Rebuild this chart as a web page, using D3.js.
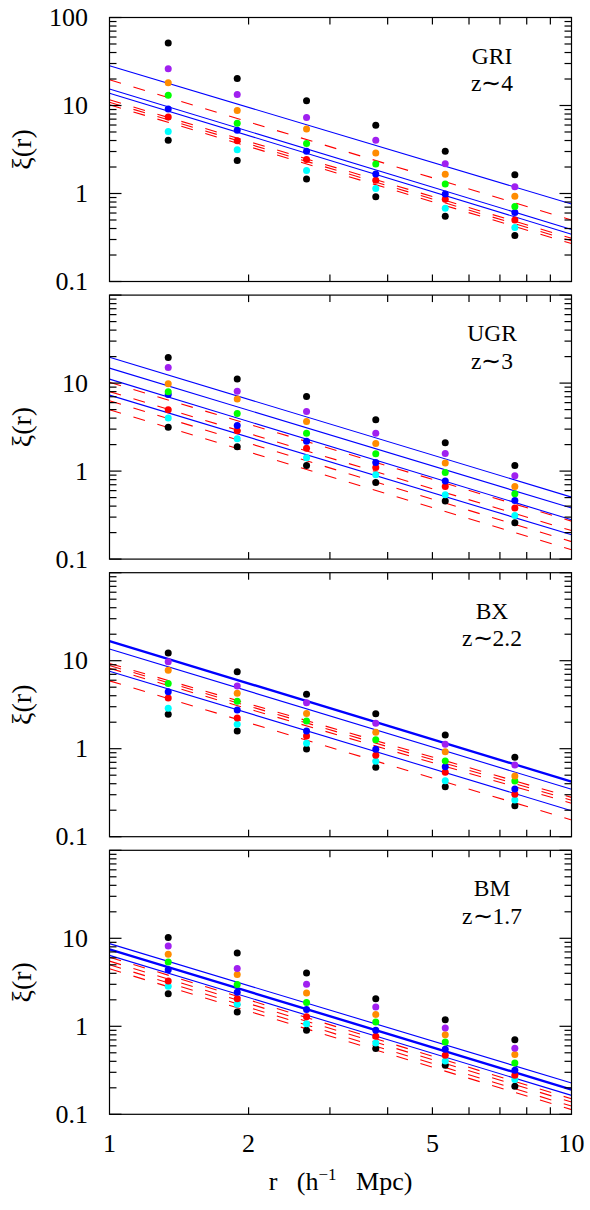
<!DOCTYPE html>
<html>
<head>
<meta charset="utf-8">
<script src="https://cdn.jsdelivr.net/npm/d3@7"></script>
<style>
  body { margin: 0; background: #fff; }
  svg text { font-family: "Liberation Serif", "Times New Roman", serif; fill: #000; }
</style>
</head>
<body>
<div id="chart"></div>
<script>
// separations r (h^-1 Mpc) of the measured points
const radii = [1.34, 1.89, 2.67, 3.77, 5.33, 7.54]

// point colours, from the top row of dots to the bottom row
const dotColors = ["#000000", "#a020f0", "#ff8c00", "#00ff00", "#0000ff", "#ff0000", "#00ffff", "#000000"]

// xi(r) values, one row per colour
const griPoints = [
  [51.2, 20.3, 11.3, 5.98, 3.03, 1.63],
  [26.1, 13.3, 7.3, 4.04, 2.18, 1.19],
  [18.1, 8.77, 5.4, 2.88, 1.66, 0.933],
  [13.1, 6.3, 3.7, 2.16, 1.28, 0.711],
  [9.1, 5.25, 3.03, 1.67, 0.985, 0.608],
  [7.4, 3.97, 2.43, 1.41, 0.863, 0.499],
  [5.07, 3.14, 1.83, 1.14, 0.682, 0.411],
  [4.04, 2.37, 1.46, 0.917, 0.553, 0.333]
]
const ugrPoints = [
  [19.5, 11.1, 7.05, 3.83, 2.1, 1.16],
  [15.0, 8.1, 4.75, 2.7, 1.59, 0.885],
  [9.8, 6.6, 3.66, 2.06, 1.24, 0.668],
  [8.0, 4.5, 2.7, 1.57, 0.964, 0.552],
  [7.4, 3.3, 2.19, 1.25, 0.77, 0.463],
  [4.97, 2.87, 1.82, 1.1, 0.668, 0.38],
  [4.0, 2.33, 1.42, 0.91, 0.537, 0.313],
  [3.16, 1.89, 1.16, 0.74, 0.456, 0.259]
]
const bxPoints = [
  [12.2, 7.5, 4.15, 2.5, 1.43, 0.8],
  [9.75, 5.16, 3.33, 1.94, 1.12, 0.653],
  [7.8, 4.26, 2.52, 1.54, 0.925, 0.49],
  [5.5, 3.46, 2.06, 1.26, 0.725, 0.43],
  [4.44, 2.75, 1.59, 0.985, 0.625, 0.348],
  [3.77, 2.23, 1.39, 0.84, 0.54, 0.303],
  [2.88, 1.89, 1.15, 0.72, 0.433, 0.261],
  [2.46, 1.59, 0.99, 0.615, 0.37, 0.225]
]
const bmPoints = [
  [10.2, 6.8, 4.03, 2.06, 1.19, 0.705],
  [8.2, 4.53, 3.0, 1.66, 0.957, 0.562],
  [6.58, 3.87, 2.39, 1.36, 0.804, 0.477],
  [5.38, 2.98, 1.86, 1.12, 0.663, 0.383],
  [4.4, 2.43, 1.55, 0.9, 0.548, 0.316],
  [3.27, 2.06, 1.28, 0.77, 0.468, 0.277],
  [2.85, 1.78, 1.07, 0.646, 0.404, 0.248],
  [2.35, 1.45, 0.9, 0.558, 0.36, 0.208]
]

// power-law fits: xi at r = 1 and at r = 10
const fitEnds = [1, 10]
const griSolid = [[28.3, 0.76], [15.4, 0.39], [13.8, 0.345]]
const griDashed = [[19.6, 0.5], [11.6, 0.31], [10.9, 0.29], [10.2, 0.27]]
const ugrSolid = [[19.7, 0.506], [14.8, 0.38], [11.1, 0.28], [7.3, 0.189]]
const ugrDashed = [[10.2, 0.27], [8.0, 0.211], [6.3, 0.158], [4.97, 0.128]]
const bxSolid = [[16.7, 0.422], [13.6, 0.346], [7.6, 0.1975]]
const bxDashed = [[9.3, 0.28], [8.8, 0.26], [8.2, 0.24], [5.9, 0.155]]
const bmSolid = [[8.7, 0.227], [7.5, 0.191], [6.4, 0.164]]
const bmDashed = [[6.1, 0.15], [5.5, 0.138], [5.0, 0.124], [4.5, 0.113]]

const sampleNames = ["GRI", "UGR", "BX", "BM"]
const redshifts = ["z\u223C4", "z\u223C3", "z\u223C2.2", "z\u223C1.7"]

const yTickLabels = [0.1, 1, 10, 100]
const xTickLabels = [1, 2, 5, 10]

const panels = [
  {points: griPoints, solid: griSolid, dashed: griDashed, thick: -1, top100: true},
  {points: ugrPoints, solid: ugrSolid, dashed: ugrDashed, thick: -1, top100: false},
  {points: bxPoints, solid: bxSolid, dashed: bxDashed, thick: 0, top100: false},
  {points: bmPoints, solid: bmSolid, dashed: bmDashed, thick: 1, top100: false}
]

const width = 590, height = 1210
const left = 109.5, plotW = 462
const panelH = 264
const panelTop = i => 17.5 + i * 277.6

const svg = d3.select("#chart").append("svg")
    .attr("width", width)
    .attr("height", height)

const x = d3.scaleLog().domain([1, 10]).range([left, left + plotW])

// minor ticks for a log axis
function logTicks(lo, hi) {
  let out = []
  for (let d = lo; d < hi; d *= 10)
    for (let k = 1; k < 10; k++) out.push(+(d * k).toPrecision(3))
  out.push(hi)
  return out
}
const yTicks = logTicks(0.1, 100)
const xMinor = [2, 3, 4, 5, 6, 7, 8, 9]

panels.forEach((p, i) => {
  const top = panelTop(i)
  const y = d3.scaleLog().domain([0.1, 100]).range([top + panelH, top])
  const g = svg.append("g").attr("class", "panel")

  // clip for lines
  const clipId = "clip" + i
  svg.append("clipPath").attr("id", clipId)
    .append("rect").attr("x", left).attr("y", top).attr("width", plotW).attr("height", panelH)

  const line = d3.line().x(d => x(d[0])).y(d => y(d[1]))

  // red dashed fits
  g.append("g").attr("clip-path", `url(#${clipId})`)
    .selectAll("path")
    .data(p.dashed)
    .join("path")
      .attr("d", d => line(fitEnds.map((r, k) => [r, d[k]])))
      .attr("fill", "none")
      .attr("stroke", "#ff0000")
      .attr("stroke-width", 1.1)
      .attr("stroke-dasharray", "12,13")

  // blue solid fits
  g.append("g").attr("clip-path", `url(#${clipId})`)
    .selectAll("path")
    .data(p.solid)
    .join("path")
      .attr("d", d => line(fitEnds.map((r, k) => [r, d[k]])))
      .attr("fill", "none")
      .attr("stroke", "#0000ff")
      .attr("stroke-width", (d, k) => k === p.thick ? 2.4 : 1.1)

  // dots: bottom row first so upper colours sit on top
  const rows = p.points.map((vals, k) => ({vals, color: dotColors[k]})).reverse()
  g.selectAll(".row")
    .data(rows)
    .join("g")
      .attr("class", "row")
      .attr("fill", d => d.color)
    .selectAll("circle")
    .data(d => d.vals.map((v, j) => [radii[j], v]))
    .join("circle")
      .attr("cx", d => x(d[0]))
      .attr("cy", d => y(d[1]))
      .attr("r", 3.5)

  // frame
  g.append("rect")
    .attr("x", left).attr("y", top)
    .attr("width", plotW).attr("height", panelH)
    .attr("fill", "none")
    .attr("stroke", "#000")
    .attr("stroke-width", 1.2)

  // y ticks, both sides, pointing in
  const isMajor = v => Math.abs(Math.log10(v) - Math.round(Math.log10(v))) < 1e-6
  const axisY = g.append("g").attr("stroke", "#000").attr("stroke-width", 1.2)
  yTicks.forEach(v => {
    const len = isMajor(v) ? 12 : 7
    axisY.append("line").attr("x1", left).attr("x2", left + len).attr("y1", y(v)).attr("y2", y(v))
    axisY.append("line").attr("x1", left + plotW).attr("x2", left + plotW - len).attr("y1", y(v)).attr("y2", y(v))
  })
  // x ticks, top and bottom
  xMinor.forEach(v => {
    axisY.append("line").attr("x1", x(v)).attr("x2", x(v)).attr("y1", top).attr("y2", top + 7)
    axisY.append("line").attr("x1", x(v)).attr("x2", x(v)).attr("y1", top + panelH).attr("y2", top + panelH - 7)
  })

  // y labels
  g.selectAll(".ylab")
    .data(yTickLabels.filter(v => v < 100 || p.top100))
    .join("text")
      .attr("class", "ylab")
      .attr("x", 88)
      .attr("y", d => y(d))
      .attr("dy", "0.33em")
      .attr("text-anchor", "end")
      .attr("font-size", 26)
      .text(d => d)

  // axis title
  g.append("text")
    .attr("transform", `translate(31,${top + panelH / 2}) rotate(-90)`)
    .attr("text-anchor", "middle")
    .attr("font-size", 28)
    .text("\u03BE(r)")

  // sample label
  g.append("text")
    .attr("x", 492).attr("y", top + 46)
    .attr("text-anchor", "middle")
    .attr("font-size", 23.5)
    .text(sampleNames[i])
  g.append("text")
    .attr("x", 492).attr("y", top + 73.5)
    .attr("text-anchor", "middle")
    .attr("font-size", 23.5)
    .text(redshifts[i])
})

// x labels under last panel
const bottom = panelTop(3) + panelH
svg.selectAll(".xlab")
  .data(xTickLabels)
  .join("text")
    .attr("class", "xlab")
    .attr("x", d => x(d))
    .attr("y", bottom + 38)
    .attr("text-anchor", "middle")
    .attr("font-size", 26)
    .text(d => d)

const xTitle = svg.append("text")
    .attr("x", left + plotW / 2)
    .attr("y", bottom + 76)
    .attr("text-anchor", "middle")
    .attr("font-size", 26)
    .attr("xml:space", "preserve")
xTitle.append("tspan").text("r   (h")
xTitle.append("tspan").attr("dy", -10).attr("font-size", 17).text("\u22121")
xTitle.append("tspan").attr("dy", 10).text("   Mpc)")
</script>
</body>
</html>
